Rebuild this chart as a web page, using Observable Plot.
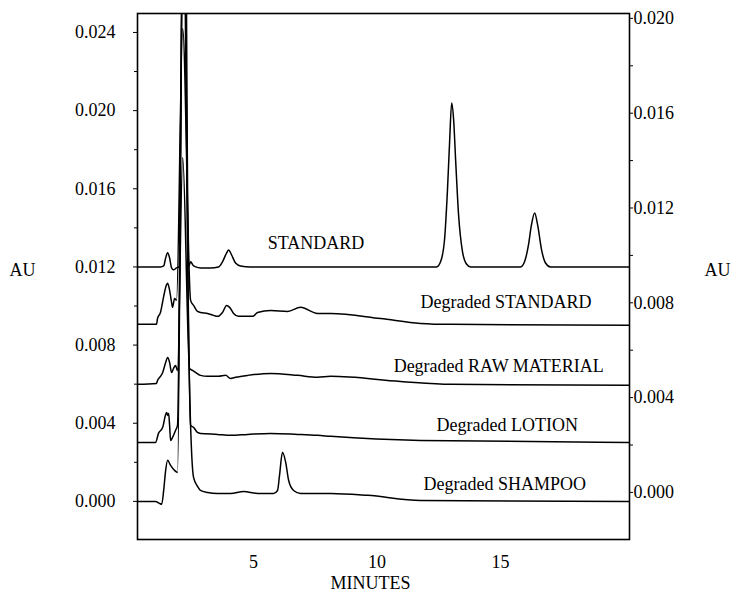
<!DOCTYPE html>
<html>
<head>
<meta charset="utf-8">
<script src="https://cdn.jsdelivr.net/npm/d3@7"></script>
<script src="https://cdn.jsdelivr.net/npm/@observablehq/plot@0.6"></script>
<style>
  html, body { margin: 0; padding: 0; background: #fff; }
  #chart svg { display: block; }
</style>
</head>
<body>
<div id="chart"></div>
<script>
// ---- data (minutes, AU on the left axis scale) ----
const standard = [[0.30,0.0120],[1.23,0.0120],[1.36,0.01205],[1.44,0.01246],[1.52,0.01272],[1.60,0.01246],[1.68,0.01195],[1.76,0.01185],[1.88,0.01195],[1.98,0.0120],[2.19,0.040],[2.37,0.0120],[2.45,0.01226],[2.57,0.01205],[2.85,0.01195],[3.26,0.01195],[3.58,0.0120],[3.74,0.01226],[3.91,0.01272],[3.99,0.01287],[4.11,0.01261],[4.27,0.0122],[4.47,0.01205],[4.88,0.0120],[6.90,0.0120],[12.41,0.0120],[12.57,0.01226],[12.73,0.01338],[12.85,0.01594],[12.94,0.0185],[13.02,0.02039],[13.10,0.01952],[13.18,0.01748],[13.30,0.01466],[13.46,0.01277],[13.62,0.01215],[13.79,0.0120],[15.81,0.0120],[15.97,0.01226],[16.13,0.01313],[16.25,0.01415],[16.38,0.01476],[16.50,0.01415],[16.66,0.01287],[16.82,0.0122],[17.02,0.0120],[20.22,0.0120]];
const degradedStandard = [[0.30,0.00906],[1.07,0.00906],[1.11,0.00936],[1.23,0.00967],[1.36,0.01049],[1.44,0.01095],[1.52,0.01116],[1.60,0.0108],[1.68,0.01018],[1.72,0.00993],[1.80,0.01039],[1.88,0.01029],[2.13,0.0242],[2.45,0.01029],[2.57,0.01003],[2.73,0.00972],[2.85,0.00967],[3.14,0.00962],[3.38,0.00952],[3.54,0.00947],[3.74,0.00967],[3.91,0.01003],[4.03,0.00993],[4.19,0.00962],[4.39,0.00947],[4.96,0.00947],[5.16,0.00967],[5.69,0.00977],[6.38,0.00972],[6.90,0.00993],[7.59,0.00962],[8.12,0.00962],[10.14,0.00936],[11.76,0.00911],[12.98,0.00906],[20.22,0.00901]];
const degradedRaw = [[0.30,0.00599],[1.07,0.00604],[1.11,0.00619],[1.23,0.0064],[1.32,0.0066],[1.44,0.00711],[1.52,0.00737],[1.60,0.00711],[1.68,0.0066],[1.76,0.00681],[1.84,0.00696],[1.92,0.0067],[2.13,0.0176],[2.41,0.00681],[2.53,0.0067],[2.65,0.0066],[2.85,0.00645],[3.14,0.0064],[3.58,0.0064],[3.87,0.00645],[4.07,0.00629],[4.27,0.00635],[4.76,0.00645],[5.69,0.00655],[6.78,0.00645],[7.59,0.00635],[8.12,0.0064],[10.95,0.00614],[12.98,0.00599],[20.22,0.00594]];
const degradedLotion = [[0.30,0.00302],[1.03,0.00302],[1.15,0.00348],[1.32,0.00379],[1.44,0.00445],[1.48,0.00455],[1.52,0.0044],[1.56,0.0045],[1.60,0.00389],[1.64,0.00312],[1.72,0.00328],[1.84,0.00363],[1.92,0.00389],[2.15,0.030],[2.45,0.00389],[2.57,0.00379],[2.73,0.00353],[2.85,0.00348],[3.54,0.00343],[4.07,0.00338],[4.76,0.00343],[5.69,0.00348],[6.78,0.00343],[7.59,0.00338],[8.12,0.00333],[11.76,0.00312],[20.22,0.00302]];
const degradedShampoo = [[0.30,0],[1.03,0],[1.19,-0.0001],[1.28,-0.00015],[1.36,0.00056],[1.44,0.00159],[1.52,0.0021],[1.64,0.00184],[1.80,0.00159],[1.92,0.00148],[2.17,0.033],[2.37,0.00824],[2.57,0.00123],[2.73,0.00077],[2.85,0.00056],[3.14,0.00046],[3.54,0.00041],[4.07,0.00041],[4.60,0.00051],[5.16,0.00041],[5.81,0.00041],[5.97,0.00056],[6.05,0.00133],[6.17,0.00251],[6.30,0.002],[6.42,0.00107],[6.62,0.00056],[6.90,0.00041],[8.12,0.00041],[9.62,0.00031],[11.76,0.00005],[20.22,0]];

const traceNames = ["STANDARD", "Degraded STANDARD", "Degraded RAW MATERIAL", "Degraded LOTION", "Degraded SHAMPOO"];
const traceData = [standard, degradedStandard, degradedRaw, degradedLotion, degradedShampoo];
const labelTimes = [5.57, 11.76, 10.67, 12.41, 11.88];
const labelAU = [0.01319, 0.01017, 0.0069, 0.00388, 0.00086];

const xTicks = [5, 10, 15];
const leftTicks = [0, 0.004, 0.008, 0.012, 0.016, 0.020, 0.024];
const leftMinor = [0.002, 0.006, 0.010, 0.014, 0.018, 0.022];
const rightTicks = [0, 0.004, 0.008, 0.012, 0.016, 0.020];
const rightMinor = [0.002, 0.006, 0.010, 0.014, 0.018];
// right axis reading: right value r sits at left value rightOffset + rightGain * r
const rightOffset = 0.00046, rightGain = 1.213;
const toLeft = r => rightOffset + rightGain * r;

const rows = traceNames.flatMap((name, i) => traceData[i].map(([t, a]) => ({name, t, a})));
const labels = traceNames.map((name, i) => ({name, t: labelTimes[i], a: labelAU[i]}));
const fmt = d3.format(".3f");
const blank = () => "";

const chart = Plot.plot({
  width: 742,
  height: 594,
  marginLeft: 137,
  marginRight: 113,
  marginTop: 13,
  marginBottom: 55,
  style: {fontFamily: "'Liberation Serif', 'Times New Roman', serif", fontSize: "18px", background: "#fff", color: "#000"},
  x: {domain: [0.30, 20.22], axis: null},
  y: {domain: [-0.00195, 0.02497], axis: null},
  marks: [
    Plot.line(rows, {x: "t", y: "a", z: "name", stroke: "#000", strokeWidth: 1.5, curve: "monotone-x", clip: true}),
    Plot.frame({stroke: "#000", strokeWidth: 1.6}),
    Plot.axisY(leftTicks, {anchor: "left", tickSize: 4, tickPadding: 18, tickFormat: fmt, fontSize: 18, label: null}),
    Plot.axisY(leftMinor, {anchor: "left", tickSize: 3, tickFormat: blank, label: null}),
    Plot.axisY(rightTicks.map(toLeft), {anchor: "right", tickSize: 3, tickPadding: 1, tickFormat: d => fmt((d - rightOffset) / rightGain), fontSize: 18, label: null}),
    Plot.axisY(rightMinor.map(toLeft), {anchor: "right", tickSize: 3, tickFormat: blank, label: null}),
    Plot.axisX(xTicks, {anchor: "bottom", tickSize: 0, tickPadding: 16, fontSize: 18, label: null}),
    Plot.text(labels, {x: "t", y: "a", text: "name", textAnchor: "start", fontSize: 18}),
    Plot.text(["AU"], {frameAnchor: "left", textAnchor: "middle", dx: -115, dy: -6, fontSize: 18}),
    Plot.text(["AU"], {frameAnchor: "right", textAnchor: "middle", dx: 88, dy: -6, fontSize: 18}),
    Plot.text(["MINUTES"], {frameAnchor: "bottom", textAnchor: "middle", dx: -13, dy: 49, fontSize: 18})
  ]
});
document.getElementById("chart").appendChild(chart);
</script>
</body>
</html>
